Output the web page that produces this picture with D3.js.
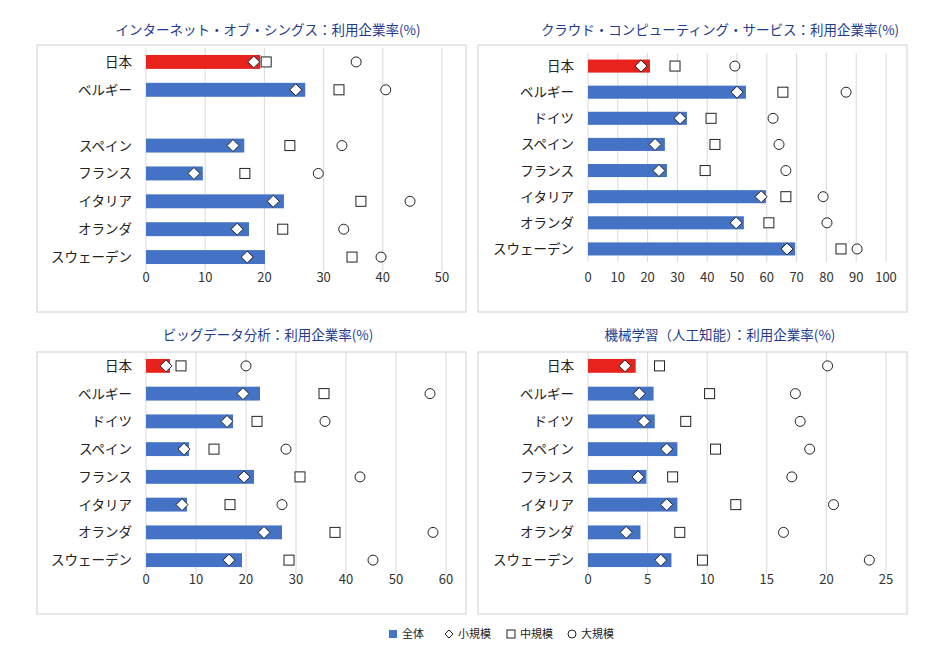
<!DOCTYPE html><html><head><meta charset="utf-8"><script src="https://cdn.jsdelivr.net/npm/d3@7"></script>
<style>body{margin:0;background:#fff}text{font-family:"Noto Sans CJK JP","Noto Sans",sans-serif}</style></head><body>
<svg id="c" width="937" height="666"></svg>
<script>
const cats1=["日本","ベルギー","","スペイン","フランス","イタリア","オランダ","スウェーデン"];
const cats=["日本","ベルギー","ドイツ","スペイン","フランス","イタリア","オランダ","スウェーデン"];
const titles=["インターネット・オブ・シングス：利用企業率(%)","クラウド・コンピューティング・サービス：利用企業率(%)","ビッグデータ分析：利用企業率(%)","機械学習（人工知能）：利用企業率(%)"];
const iotAll=[19.3,26.9,null,16.6,9.6,23.3,17.4,20.1],iotS=[18.2,25.3,null,14.7,8.1,21.5,15.4,17.1],iotM=[20.3,32.6,null,24.3,16.7,36.3,23.1,34.8],iotL=[35.5,40.5,null,33.1,29.1,44.6,33.4,39.7];
const clAll=[20.8,53,33.2,25.8,26.5,59.7,52.3,69.5],clS=[17.8,50,30.9,22.5,23.8,58.1,49.7,66.8],clM=[29.2,65.4,41.3,42.6,39.3,66.4,60.7,84.9],clL=[49.3,86.6,62.1,64.1,66.4,78.9,80.2,90.3];
const bdAll=[4.8,22.8,17.4,8.6,21.6,8.2,27.2,19.2],bdS=[4,19.4,16.2,7.6,19.6,7.2,23.6,16.6],bdM=[7,35.6,22.2,13.6,30.8,16.8,37.8,28.6],bdL=[20,56.8,35.8,28,42.8,27.2,57.4,45.4];
const mlAll=[4.0,5.5,5.6,7.5,4.9,7.5,4.4,7.0],mlS=[3.1,4.3,4.7,6.6,4.2,6.6,3.2,6.1],mlM=[6.0,10.2,8.2,10.7,7.1,12.4,7.7,9.6],mlL=[20.1,17.4,17.8,18.6,17.1,20.6,16.4,23.6];
const ticks1=[0,10,20,30,40,50],ticks2=[0,10,20,30,40,50,60,70,80,90,100],ticks3=[0,10,20,30,40,50,60],ticks4=[0,5,10,15,20,25];
const legendLabels=["全体","小規模","中規模","大規模"];
const svg=d3.select("#c");
const panels=[
 {cats:cats1,all:iotAll,s:iotS,m:iotM,l:iotL,ticks:ticks1,max:50,fx:37,fy:45,fw:429,fh:267,px:146,pw:296,py:48,ph:223,ax:282,ty:35,tx:268},
 {cats:cats,all:clAll,s:clS,m:clM,l:clL,ticks:ticks2,max:100,fx:478,fy:45,fw:429,fh:267,px:588,pw:298,py:53,ph:209,ax:282,ty:35,tx:720},
 {cats:cats,all:bdAll,s:bdS,m:bdM,l:bdL,ticks:ticks3,max:60,fx:37,fy:352,fw:429,fh:262,px:146,pw:300,py:352,ph:222,ax:584,ty:340,tx:268},
 {cats:cats,all:mlAll,s:mlS,m:mlM,l:mlL,ticks:ticks4,max:25,fx:478,fy:352,fw:429,fh:262,px:588,pw:298,py:352,ph:222,ax:584,ty:340,tx:720}];
panels.forEach((p,i)=>{
 svg.append("rect").attr("x",p.fx).attr("y",p.fy).attr("width",p.fw).attr("height",p.fh).attr("fill","none").attr("stroke","#d0d0d0");
 svg.append("text").attr("x",p.tx).attr("y",p.ty).attr("text-anchor","middle").attr("font-size",13.5).attr("fill","#1f3b8f").text(titles[i]);
 const x=d3.scaleLinear().domain([0,p.max]).range([p.px,p.px+p.pw]);
 const y=d3.scaleBand().domain(d3.range(8)).range([p.py,p.py+p.ph]).paddingInner(0.5).paddingOuter(0.25);
 const g=svg.append("g");
 g.selectAll(".gl").data(p.ticks).join("line").attr("x1",d=>x(d)).attr("x2",d=>x(d)).attr("y1",p.py).attr("y2",p.py+p.ph).attr("stroke","#d9d9d9");
 g.selectAll(".tl").data(p.ticks).join("text").attr("x",d=>x(d)).attr("y",p.ax).attr("text-anchor","middle").attr("font-size",13).attr("fill","#333").text(d=>d);
 g.selectAll(".cl").data(p.cats).join("text").attr("x",p.px-14).attr("y",(d,j)=>y(j)+y.bandwidth()/2+5).attr("text-anchor","end").attr("font-size",13.5).attr("fill","#222").text(d=>d);
 const idx=d3.range(8).filter(j=>p.all[j]!=null);
 g.selectAll(".bar").data(idx).join("rect").attr("x",x(0)).attr("y",j=>y(j)).attr("height",y.bandwidth()).attr("width",j=>x(p.all[j])-x(0)).attr("fill",j=>j===0?"#e8231e":"#4472c4");
 const cy=j=>y(j)+y.bandwidth()/2;
 g.selectAll(".l").data(idx).join("circle").attr("cx",j=>x(p.l[j])).attr("cy",cy).attr("r",5).attr("fill","#fff").attr("stroke","#222");
 g.selectAll(".m").data(idx).join("rect").attr("x",j=>x(p.m[j])-5).attr("y",j=>cy(j)-5).attr("width",10).attr("height",10).attr("fill","#fff").attr("stroke","#222");
 g.selectAll(".s").data(idx).join("path").attr("d",j=>{const cx=x(p.s[j]),c=cy(j);return `M${cx},${c-6}L${cx+6},${c}L${cx},${c+6}L${cx-6},${c}Z`}).attr("fill","#fff").attr("stroke","#222");
});
const lg=svg.append("g");const lx=[389,445,507,568];
lx.forEach((x0,k)=>{
 const c=634;
 if(k===0)lg.append("rect").attr("x",x0).attr("y",c-4).attr("width",8).attr("height",8).attr("fill","#4472c4");
 if(k===1)lg.append("path").attr("d",`M${x0+4},${c-4}L${x0+8},${c}L${x0+4},${c+4}L${x0},${c}Z`).attr("fill","#fff").attr("stroke","#222");
 if(k===2)lg.append("rect").attr("x",x0).attr("y",c-4).attr("width",8).attr("height",8).attr("fill","#fff").attr("stroke","#222");
 if(k===3)lg.append("circle").attr("cx",x0+4).attr("cy",c).attr("r",4).attr("fill","#fff").attr("stroke","#222");
 lg.append("text").attr("x",x0+13).attr("y",c+4).attr("font-size",11).attr("fill","#222").text(legendLabels[k]);
});
</script></body></html>
